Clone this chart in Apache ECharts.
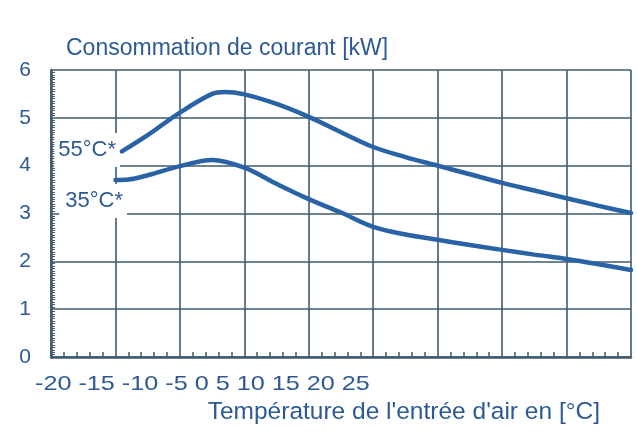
<!DOCTYPE html>
<html>
<head>
<meta charset="utf-8">
<script src="https://cdn.jsdelivr.net/npm/echarts@6/dist/echarts.min.js"></script>
<style>html,body{margin:0;padding:0;background:#fff}#c{width:637px;height:437px}</style>
</head>
<body>
<div id="c"></div>
<script>
// Data
var xTickLabels = ['-20', '-15', '-10', '-5', '0', '5', '10', '15', '20', '25'];
var yTickLabels = ['0', '1', '2', '3', '4', '5', '6'];
var curve55 = [[-14.5,4.30],[-12.5,4.64],[-10,5.11],[-7.5,5.50],[-6.5,5.54],[-5,5.49],[-2.5,5.29],[0,5.02],[2.5,4.70],[5,4.39],[7.5,4.18],[10,4.00],[12.5,3.82],[15,3.64],[17.5,3.48],[20,3.32],[22.5,3.16],[25,3.01]];
var curve35 = [[-15,3.70],[-14,3.71],[-12.5,3.80],[-10,3.99],[-7.5,4.12],[-5,3.96],[-2.5,3.62],[0,3.30],[2.5,3.02],[5,2.72],[7.5,2.56],[10,2.45],[12.5,2.34],[15,2.24],[17.5,2.14],[20,2.05],[22.5,1.94],[25,1.82]];
var seriesNames = ['55°C*', '35°C*'];
var yTitle = 'Consommation de courant [kW]';
var xTitle = "Température de l'entrée d'air en [°C]";

var textColor = '#2d5a94';
var gridColor = '#3f5b6e';
var lineColor = '#2a62a6';
var font = 'Liberation Sans, Arial, sans-serif';

var chart = echarts.init(document.getElementById('c'), null, {renderer: 'canvas'});
chart.setOption({
  animation: false,
  backgroundColor: '#ffffff',
  grid: {left: 51, right: 6, top: 70, bottom: 80},
  xAxis: {
    type: 'value', min: -20, max: 25, interval: 5,
    axisLine: {show: true, onZero: false, lineStyle: {color: gridColor, width: 2.5}},
    axisTick: {show: false},
    minorTick: {show: true, splitNumber: 5, length: -5, lineStyle: {color: gridColor, width: 1.5}},
    axisLabel: {show: false},
    splitLine: {show: true, lineStyle: {color: gridColor, width: 1.6}}
  },
  yAxis: {
    type: 'value', min: 0, max: 6, interval: 1,
    axisLine: {show: true, onZero: false, lineStyle: {color: gridColor, width: 2.5}},
    axisTick: {show: false},
    minorTick: {show: true, splitNumber: 20, length: -4, lineStyle: {color: gridColor, width: 1}},
    axisLabel: {
      margin: 20, color: textColor, fontSize: 21, fontFamily: font,
      formatter: function (v) { return yTickLabels[Math.round(v)]; }
    },
    splitLine: {show: true, lineStyle: {color: gridColor, width: 1.6}}
  },
  series: [
    {name: seriesNames[0], type: 'line', data: curve55, smooth: 0.35, showSymbol: false, z: 5,
     lineStyle: {color: lineColor, width: 4.5, cap: 'round'}},
    {name: seriesNames[1], type: 'line', data: curve35, smooth: 0.35, showSymbol: false, z: 5,
     lineStyle: {color: lineColor, width: 4.5, cap: 'round'}}
  ],
  graphic: [
    {type: 'text', left: 66, top: 37, z: 10,
     style: {text: yTitle, fill: textColor, font: '23px ' + font}},
    {type: 'text', x: 35, y: 374, scaleX: 1.2, z: 10,
     style: {text: xTickLabels.join(' '), fill: textColor, font: '21px ' + font}},
    {type: 'text', right: 37, top: 400, z: 10,
     style: {text: xTitle, fill: textColor, font: '24.5px ' + font}},
    {type: 'text', x: 120, y: 150, z: 3,
     style: {text: seriesNames[0], fill: textColor, font: '22px ' + font, align: 'right', verticalAlign: 'middle',
             backgroundColor: '#ffffff', padding: [6, 4, 6, 4]}},
    {type: 'text', x: 127, y: 201, z: 3,
     style: {text: seriesNames[1], fill: textColor, font: '22px ' + font, align: 'right', verticalAlign: 'middle',
             backgroundColor: '#ffffff', padding: [6, 4, 6, 6]}}
  ]
});
</script>
</body>
</html>
